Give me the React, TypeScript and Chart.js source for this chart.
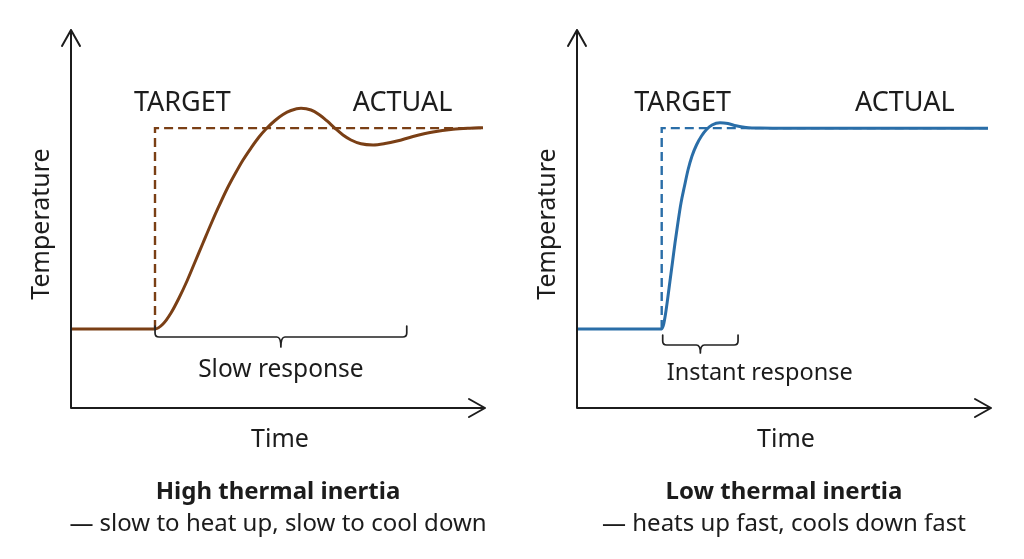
import { useEffect, useRef } from "react";
import { Chart, registerables } from "chart.js";

Chart.register(...registerables);

// Temperature levels (arbitrary units on a 0–100 scale)
const baseTemp = 20.9;
const targetTemp = 74.05;

// High thermal inertia: set-point step time and the measured response
const slowStepTime = 20.29;
const slowTime = [
  0, 20.29, 22.22, 24.15, 26.09, 28.02, 29.95, 31.88, 33.82, 35.75, 37.68, 39.61, 41.55, 43.48,
  45.41, 47.34, 49.28, 51.21, 53.14, 55.56, 57.97, 59.9, 61.84, 63.77, 65.7, 67.63, 70.05, 72.95,
  75.85, 78.74, 82.61, 87.44, 92.27, 96.38, 99.52,
];
const slowTemp = [
  20.9, 20.9, 22.22, 25.13, 29.1, 33.6, 38.62, 43.65, 48.68, 53.44, 57.94, 61.9, 65.61, 68.78,
  71.69, 74.07, 76.06, 77.65, 78.7, 79.29, 78.84, 77.65, 75.93, 74.0, 72.22, 70.9, 69.89, 69.58,
  69.95, 70.63, 71.83, 73.02, 73.73, 74.02, 74.15,
];
const slowBracket = [20.3, 81.1];

// Low thermal inertia
const fastStepTime = 20.46;
const fastTime = [
  0, 20.46, 20.89, 21.38, 21.86, 22.46, 23.07, 23.67, 24.4, 25.12, 25.97, 26.81, 27.78, 28.86,
  30.07, 31.28, 32.61, 34.54, 36.47, 38.41, 40.82, 44.2, 51.45, 99.28,
];
const fastTemp = [
  20.9, 20.9, 21.96, 24.87, 28.57, 33.6, 38.62, 43.65, 49.21, 54.23, 58.73, 62.96, 66.67, 69.58,
  71.96, 73.68, 74.87, 75.48, 75.26, 74.66, 74.23, 74.05, 74.0, 74.0,
];
const fastBracket = [20.7, 38.9];

const FONT = '"Noto Sans", "Open Sans", sans-serif';
const INK = "#1c1c1c";

type Panel = {
  left: number;
  color: string;
  stepTime: number;
  time: number[];
  temp: number[];
  endTime: number;
  bracket: number[];
  bracketDrop: number;
  bracketRise: number;
  bracketTip: number;
  bracketLabel: string;
  bracketLabelAlign: "center" | "left";
  bracketLabelDrop: number;
  bracketLabelSize: number;
  targetLabelX: number;
  actualLabelX: number;
  title: string;
  subtitle: string;
};

const panels: Panel[] = [
  {
    left: 0,
    color: "#7a3f15",
    stepTime: slowStepTime,
    time: slowTime,
    temp: slowTemp,
    endTime: 99.5,
    bracket: slowBracket,
    bracketDrop: 8,
    bracketRise: 11,
    bracketTip: 10,
    bracketLabel: "Slow response",
    bracketLabelAlign: "center",
    bracketLabelDrop: 40,
    bracketLabelSize: 24.5,
    targetLabelX: 26.9,
    actualLabelX: 80.1,
    title: "High thermal inertia",
    subtitle: "\u2014 slow to heat up, slow to cool down",
  },
  {
    left: 506,
    color: "#2a6ea8",
    stepTime: fastStepTime,
    time: fastTime,
    temp: fastTemp,
    endTime: 99.3,
    bracket: fastBracket,
    bracketDrop: 16,
    bracketRise: 10,
    bracketTip: 8,
    bracketLabel: "Instant response",
    bracketLabelAlign: "left",
    bracketLabelDrop: 35,
    bracketLabelSize: 23.5,
    targetLabelX: 25.5,
    actualLabelX: 79.2,
    title: "Low thermal inertia",
    subtitle: "\u2014 heats up fast, cools down fast",
  },
];

function decorPlugin(p: Panel) {
  return {
    id: "thermalDecor",
    afterDatasetsDraw(chart: any) {
      const { ctx, chartArea, scales } = chart;
      const xs = scales.x;
      const ys = scales.y;
      const { left, right, top, bottom } = chartArea;
      const cx = (left + right) / 2;
      ctx.save();

      // axes with open arrowheads
      ctx.strokeStyle = INK;
      ctx.lineWidth = 2;
      ctx.lineCap = "round";
      ctx.lineJoin = "round";
      ctx.beginPath();
      ctx.moveTo(left, bottom);
      ctx.lineTo(left, top);
      ctx.moveTo(left - 9, top + 16);
      ctx.lineTo(left, top);
      ctx.lineTo(left + 9, top + 16);
      ctx.moveTo(left, bottom);
      ctx.lineTo(right, bottom);
      ctx.moveTo(right - 16, bottom - 9);
      ctx.lineTo(right, bottom);
      ctx.lineTo(right - 16, bottom + 9);
      ctx.stroke();

      // response bracket
      const x0 = xs.getPixelForValue(p.bracket[0]);
      const x1 = xs.getPixelForValue(p.bracket[1]);
      const xm = (x0 + x1) / 2;
      const yb = ys.getPixelForValue(baseTemp) + p.bracketDrop;
      const r = 4;
      ctx.lineWidth = 1.7;
      ctx.strokeStyle = "#222";
      ctx.beginPath();
      ctx.moveTo(x0, yb - p.bracketRise);
      ctx.lineTo(x0, yb - r);
      ctx.quadraticCurveTo(x0, yb, x0 + r, yb);
      ctx.lineTo(xm - r, yb);
      ctx.quadraticCurveTo(xm, yb, xm, yb + p.bracketTip);
      ctx.moveTo(x1, yb - p.bracketRise);
      ctx.lineTo(x1, yb - r);
      ctx.quadraticCurveTo(x1, yb, x1 - r, yb);
      ctx.lineTo(xm + r, yb);
      ctx.quadraticCurveTo(xm, yb, xm, yb + p.bracketTip);
      ctx.stroke();

      ctx.fillStyle = INK;
      ctx.textBaseline = "alphabetic";

      // bracket label
      ctx.font = `400 ${p.bracketLabelSize}px ${FONT}`;
      ctx.textAlign = p.bracketLabelAlign;
      ctx.fillText(
        p.bracketLabel,
        p.bracketLabelAlign === "center" ? xm : x0 + 4,
        yb + p.bracketLabelDrop
      );

      // series labels
      const labelY = ys.getPixelForValue(78.6);
      ctx.font = `400 27px ${FONT}`;
      ctx.textAlign = "center";
      ctx.fillText("TARGET", xs.getPixelForValue(p.targetLabelX), labelY);
      ctx.fillText("ACTUAL", xs.getPixelForValue(p.actualLabelX), labelY);

      // axis titles
      ctx.font = `400 25px ${FONT}`;
      ctx.fillText("Time", cx + 2, bottom + 39);
      ctx.save();
      ctx.translate(left - 22.5, 224);
      ctx.rotate(-Math.PI / 2);
      ctx.fillText("Temperature", 0, 0);
      ctx.restore();

      // caption
      ctx.font = `700 24px ${FONT}`;
      ctx.fillText(p.title, cx, bottom + 90.5);
      ctx.font = `400 24px ${FONT}`;
      ctx.fillText(p.subtitle, cx, bottom + 122.5);

      ctx.restore();
    },
  };
}

function PanelChart({ panel }: { panel: Panel }) {
  const ref = useRef<HTMLCanvasElement | null>(null);

  useEffect(() => {
    if (!ref.current) return;
    const actual = panel.time.map((t, i) => ({ x: t, y: panel.temp[i] }));
    const target = [
      { x: panel.stepTime, y: baseTemp },
      { x: panel.stepTime, y: targetTemp },
      { x: panel.endTime, y: targetTemp },
    ];
    const chart = new Chart(ref.current, {
      type: "line",
      data: {
        datasets: [
          {
            label: "ACTUAL",
            data: actual,
            borderColor: panel.color,
            borderWidth: 3,
            cubicInterpolationMode: "monotone",
            pointRadius: 0,
            fill: false,
            order: 1,
          },
          {
            label: "TARGET",
            data: target,
            borderColor: panel.color,
            borderWidth: 2.4,
            borderDash: [9, 5],
            tension: 0,
            pointRadius: 0,
            fill: false,
            order: 2,
          },
        ],
      },
      options: {
        animation: false,
        responsive: false,
        layout: { padding: { left: 71, top: 30, right: 27, bottom: 151 } },
        scales: {
          x: { type: "linear", min: 0, max: 100, display: false },
          y: { type: "linear", min: 0, max: 100, display: false },
        },
        plugins: { legend: { display: false }, tooltip: { enabled: false } },
      },
      plugins: [decorPlugin(panel)],
    } as any);
    return () => chart.destroy();
  }, [panel]);

  return (
    <canvas
      ref={ref}
      width={512}
      height={559}
      style={{ position: "absolute", left: panel.left, top: 0, width: 512, height: 559 }}
    />
  );
}

export default function App() {
  return (
    <div
      style={{
        position: "absolute",
        left: 0,
        top: 0,
        width: 1024,
        height: 559,
        background: "#ffffff",
        overflow: "hidden",
      }}
    >
      {panels.map((p) => (
        <PanelChart key={p.title} panel={p} />
      ))}
    </div>
  );
}
